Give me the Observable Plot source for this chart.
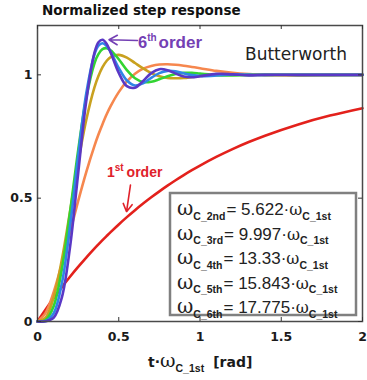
<!DOCTYPE html>
<html><head><meta charset="utf-8">
<script src="https://cdn.jsdelivr.net/npm/d3@7"></script>
<script src="https://cdn.jsdelivr.net/npm/@observablehq/plot@0.6"></script>
<style>body{margin:0;background:#fff;} #chart svg{display:block}</style>
</head><body><div id="chart"></div>
<script>
// normalized time t·ωc_1st [rad]
const tGrid = [0, 0.05, 0.1, 0.15, 0.2, 0.25, 0.3, 0.35, 0.375, 0.4, 0.425, 0.45, 0.5, 0.55, 0.6, 0.65, 0.7, 0.75, 0.8, 0.85, 0.9, 0.95, 1.0, 1.1, 1.2, 1.3, 1.4, 1.6, 1.8, 2.0];
// step response values
const order1 = [0, 0.0488, 0.0952, 0.1393, 0.1813, 0.2212, 0.2592, 0.2953, 0.3127, 0.3297, 0.3462, 0.3624, 0.3935, 0.4231, 0.4512, 0.4780, 0.5034, 0.5276, 0.5507, 0.5726, 0.5934, 0.6133, 0.6321, 0.6671, 0.6988, 0.7275, 0.7534, 0.7981, 0.8347, 0.8647];
const order2 = [0, 0.035, 0.120, 0.235, 0.361, 0.488, 0.606, 0.711, 0.758, 0.800, 0.839, 0.873, 0.930, 0.973, 1.004, 1.025, 1.036, 1.042, 1.043, 1.041, 1.037, 1.032, 1.027, 1.016, 1.008, 1.003, 1.000, 0.998, 0.999, 1.000];
const order3 = [0, 0.016, 0.099, 0.251, 0.445, 0.644, 0.817, 0.948, 0.995, 1.031, 1.056, 1.072, 1.081, 1.070, 1.048, 1.026, 1.007, 0.994, 0.987, 0.986, 0.987, 0.991, 0.995, 1.000, 1.002, 1.002, 1.000, 1.000, 1.000, 1.000];
const order4 = [0, 0.006, 0.063, 0.213, 0.442, 0.693, 0.906, 1.046, 1.084, 1.104, 1.108, 1.100, 1.063, 1.019, 0.986, 0.971, 0.972, 0.982, 0.994, 1.003, 1.008, 1.008, 1.005, 0.999, 0.998, 0.999, 1.000, 1.000, 1.000, 1.000];
const order5 = [0, 0.002, 0.034, 0.155, 0.384, 0.669, 0.924, 1.082, 1.118, 1.128, 1.117, 1.093, 1.028, 0.977, 0.957, 0.966, 0.988, 1.007, 1.016, 1.014, 1.006, 0.999, 0.995, 0.997, 1.002, 1.001, 1.000, 1.000, 1.000, 1.000];
const order6 = [0, 0.001, 0.016, 0.098, 0.301, 0.599, 0.894, 1.088, 1.132, 1.142, 1.126, 1.091, 1.008, 0.954, 0.948, 0.975, 1.007, 1.023, 1.019, 1.005, 0.993, 0.990, 0.994, 1.004, 1.002, 0.998, 1.000, 1.000, 1.000, 1.000];

const orderNames = ["1st", "2nd", "3rd", "4th", "5th", "6th"];
const orderColors = ["#e3211c", "#f6874e", "#c9a11f", "#33d433", "#2f86e6", "#5a38c6"];
const cutoffOrders = ["2nd", "3rd", "4th", "5th", "6th"];
const cutoffRatios = ["5.622", "9.997", "13.33", "15.843", "17.775"];
const xTicks = [0, 0.5, 1, 1.5, 2];
const yTicks = [0, 0.5, 1];
const titleText = "Normalized step response";
const filterName = "Butterworth";
// annotation arrows in data units: [x1, y1, x2, y2]
const arrow6th = [0.615, 1.139, 0.44, 1.142];
const arrow1st = [0.572, 0.553, 0.548, 0.445];

const series = [order1, order2, order3, order4, order5, order6];
const data = [];
series.forEach((vals, i) => vals.forEach((v, j) => data.push({order: orderNames[i], t: tGrid[j], v})));

const W = 367, H = 380, mL = 37, mR = 5, mT = 25, mB = 59;
const frameW = W - mL - mR, frameH = H - mT - mB;

const plot = Plot.plot({
  width: W, height: H,
  marginLeft: mL, marginRight: mR, marginTop: mT, marginBottom: mB,
  style: {fontFamily: "DejaVu Sans", background: "white", color: "#1a1a1a", overflow: "visible"},
  x: {domain: [0, 2], label: null},
  y: {domain: [0, 1.2], label: null},
  color: {domain: orderNames, range: orderColors},
  marks: [
    Plot.line(data, {x: "t", y: "v", z: "order", stroke: "order", strokeWidth: 2.6, curve: "catmull-rom"}),
    Plot.arrow([arrow6th], {x1: d => d[0], y1: d => d[1], x2: d => d[2], y2: d => d[3], stroke: "#7440b4", strokeWidth: 1.6, headLength: 9}),
    Plot.arrow([arrow1st], {x1: d => d[0], y1: d => d[1], x2: d => d[2], y2: d => d[3], stroke: "#e0212a", strokeWidth: 1.6, headLength: 9}),
    Plot.frame({stroke: "#4a4a4a", strokeWidth: 1.5}),
    Plot.tickX(xTicks, {insetTop: frameH - 4, stroke: "#333"}),
    Plot.tickX(xTicks, {insetBottom: frameH - 4, stroke: "#333"}),
    Plot.tickY(yTicks, {insetRight: frameW - 4, stroke: "#333"}),
    Plot.tickY(yTicks, {insetLeft: frameW - 4, stroke: "#333"}),
    Plot.axisX({ticks: xTicks, tickSize: 0, tickPadding: 11, tickFormat: d => String(d), fontWeight: "bold", fontSize: 12.5, label: null}),
    Plot.axisY({ticks: yTicks, tickSize: 0, tickPadding: 5, tickFormat: d => String(d), fontWeight: "bold", fontSize: 12.5, label: null})
  ]
});
document.getElementById("chart").appendChild(plot);

const sx = plot.scale("x"), sy = plot.scale("y");
const svg = d3.select(plot);

function richText(x, y, parts, {fill = "#1a1a1a", family = "DejaVu Sans"} = {}) {
  const txt = svg.append("text").attr("x", x).attr("y", y).attr("fill", fill)
    .attr("text-anchor", "start").attr("font-family", family).style("white-space", "pre");
  let shift = 0;
  for (const p of parts) {
    const ts = txt.append("tspan").text(p.text);
    const target = p.shift || 0;
    if (target !== shift) ts.attr("dy", target - shift);
    shift = target;
    if (p.dx) ts.attr("dx", p.dx);
    if (p.size) ts.attr("font-size", p.size);
    if (p.weight) ts.attr("font-weight", p.weight);
    if (p.family) ts.attr("font-family", p.family);
  }
  return txt;
}

// title
svg.append("text").attr("x", 42).attr("y", 15).attr("text-anchor", "start").attr("font-family", "DejaVu Sans")
  .attr("font-weight", "bold").attr("font-size", 13.5).attr("fill", "#111").text(titleText);

// filter name
svg.append("text").attr("x", sx.apply(1.28)).attr("y", sy.apply(1.06)).attr("text-anchor", "start").attr("font-family", "DejaVu Sans")
  .attr("font-size", 17).attr("fill", "#222").text(filterName);

// 6th order label
richText(sx.apply(arrow6th[0]) + 1, sy.apply(arrow6th[1]) + 7.5, [
  {text: "6", size: 16.5, weight: "bold", family: "Liberation Sans"},
  {text: "th", size: 10, weight: "bold", family: "Liberation Sans", shift: -6.5},
  {text: "order", size: 17, weight: "bold", family: "Liberation Sans", shift: 0, dx: 2}
], {fill: "#7440b4"});

// 1st order label
richText(sx.apply(0.43), sy.apply(0.585), [
  {text: "1", size: 14, weight: "bold", family: "Liberation Sans"},
  {text: "st", size: 10, weight: "bold", family: "Liberation Sans", shift: -5.5},
  {text: "order", size: 14, weight: "bold", family: "Liberation Sans", shift: 0, dx: 3}
], {fill: "#e0212a"});

// legend box
const boxX = 170, boxY = 193, boxW = 186, boxH = 122;
svg.append("rect").attr("x", boxX).attr("y", boxY).attr("width", boxW).attr("height", boxH)
  .attr("fill", "white").attr("stroke", "#808080").attr("stroke-width", 2.5);
cutoffOrders.forEach((ord, i) => {
  richText(boxX + 7, boxY + 22 + i * 24.6, [
    {text: "ω", size: 20, family: "DejaVu Serif"},
    {text: "C_" + ord, size: 10.5, weight: "bold", family: "Liberation Sans", shift: 4.5},
    {text: "= " + cutoffRatios[i] + "·", size: 17, family: "Liberation Sans", shift: 0, dx: 1},
    {text: "ω", size: 16, family: "DejaVu Serif"},
    {text: "C_1st", size: 10.5, weight: "bold", family: "Liberation Sans", shift: 4.5}
  ], {fill: "#222"});
});

// x-axis label
richText(148, 367, [
  {text: "t", size: 14, weight: "bold"},
  {text: "·", size: 14, weight: "bold"},
  {text: "ω", size: 19, family: "DejaVu Serif"},
  {text: "C_1st", size: 10.5, weight: "bold", family: "Liberation Sans", shift: 4.5},
  {text: "[rad]", size: 14, weight: "bold", shift: 0, dx: 9}
], {fill: "#1a1a1a"});
</script>
</body></html>
